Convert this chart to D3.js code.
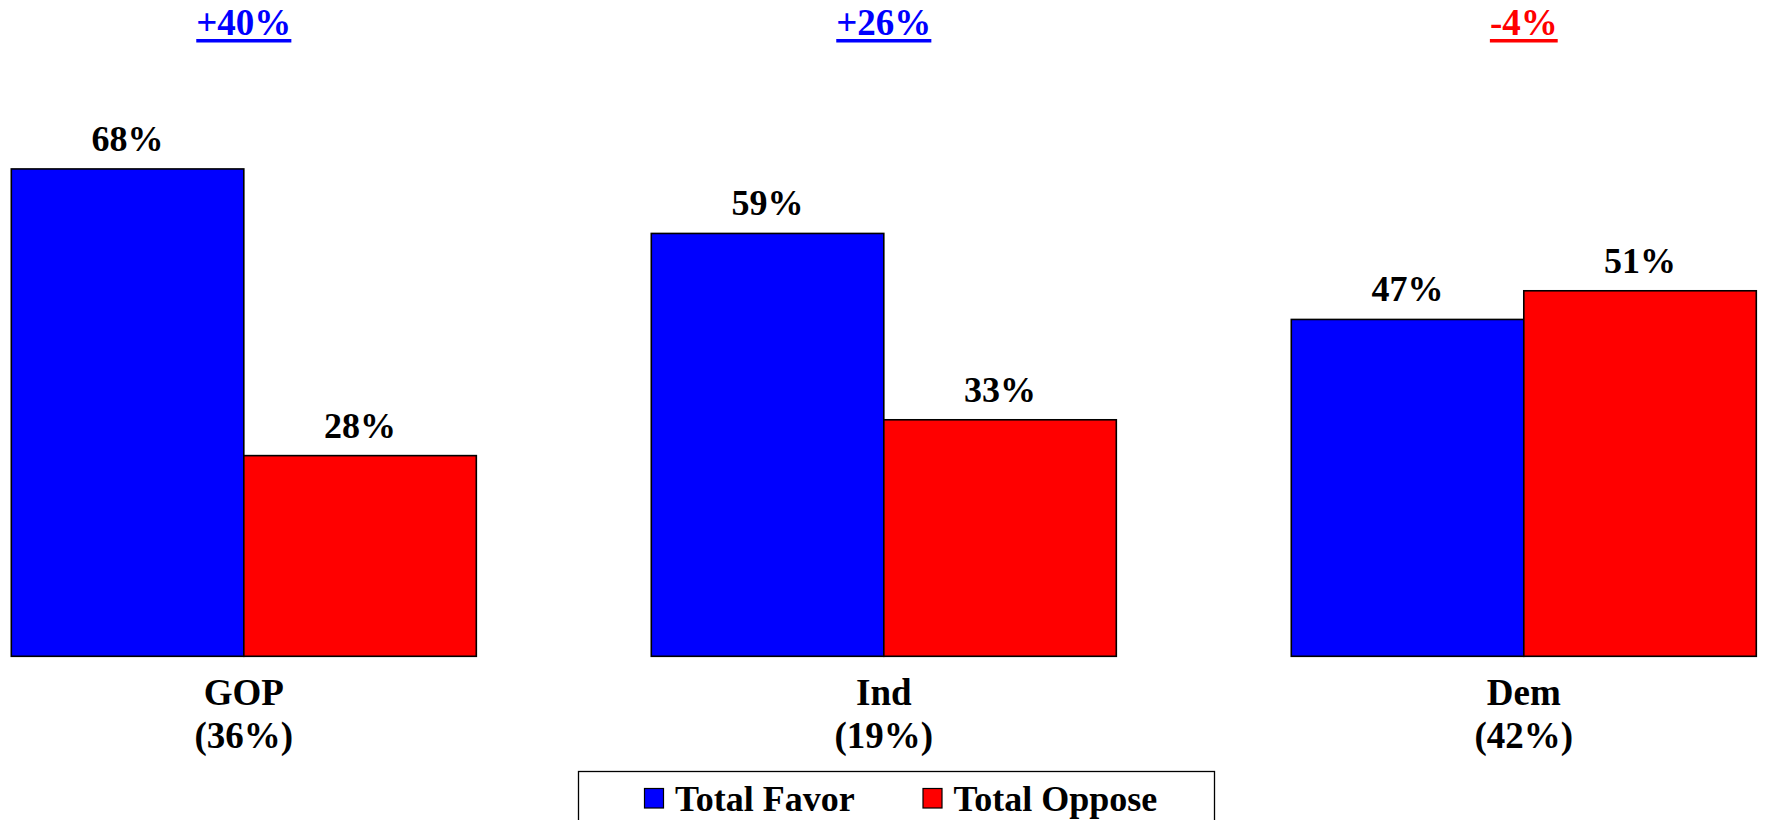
<!DOCTYPE html>
<html>
<head>
<meta charset="utf-8">
<script src="https://cdn.jsdelivr.net/npm/d3@7"></script>
<style>
  html, body { margin: 0; padding: 0; background: #fff; }
  svg { display: block; }
  text { font-family: "Liberation Serif", "Times New Roman", serif; font-weight: bold; }
</style>
</head>
<body>
<svg id="chart" width="1765" height="820"></svg>
<script>
// ---- data ----
const categories = ["GOP", "Ind", "Dem"];
const categoryShares = ["(36%)", "(19%)", "(42%)"];
const seriesNames = ["Total Favor", "Total Oppose"];
const favorValues = [68, 59, 47];
const opposeValues = [28, 33, 51];
const netLabels = ["+40%", "+26%", "-4%"];
const netColors = ["#0000FF", "#0000FF", "#FF0000"];
const seriesColors = ["#0000FF", "#FF0000"];

// ---- layout ----
const W = 1765, H = 820;
const svg = d3.select("#chart");

const x0 = d3.scaleBand().domain(categories).range([11.3, 1756.3]).paddingInner(0.2734).paddingOuter(0);
const x1 = d3.scaleBand().domain(seriesNames).range([0, x0.bandwidth()]).padding(0);
const y = d3.scaleLinear().domain([0, 100]).range([656.3, 656.3 - 716.7]);

const rows = categories.map((c, i) => ({
  cat: c, share: categoryShares[i], net: netLabels[i], netColor: netColors[i],
  vals: [favorValues[i], opposeValues[i]]
}));

const g = svg.append("g");

const groups = g.selectAll("g.grp").data(rows).join("g")
  .attr("class", "grp")
  .attr("transform", d => `translate(${x0(d.cat)},0)`);

groups.selectAll("rect").data(d => d.vals.map((v, j) => ({ name: seriesNames[j], v, j })))
  .join("rect")
  .attr("x", d => x1(d.name))
  .attr("y", d => y(d.v))
  .attr("width", x1.bandwidth())
  .attr("height", d => y(0) - y(d.v))
  .attr("fill", d => seriesColors[d.j])
  .attr("stroke", "#000")
  .attr("stroke-width", 1.6);

groups.selectAll("text.val").data(d => d.vals.map((v, j) => ({ name: seriesNames[j], v })))
  .join("text")
  .attr("class", "val")
  .attr("x", d => x1(d.name) + x1.bandwidth() / 2)
  .attr("y", d => y(d.v) - 18)
  .attr("text-anchor", "middle")
  .attr("font-size", 36)
  .attr("fill", "#000")
  .text(d => d.v + "%");

// category labels
groups.append("text")
  .attr("x", x0.bandwidth() / 2).attr("y", 705)
  .attr("text-anchor", "middle").attr("font-size", 37).attr("fill", "#000")
  .text(d => d.cat);
groups.append("text")
  .attr("x", x0.bandwidth() / 2).attr("y", 748)
  .attr("text-anchor", "middle").attr("font-size", 37).attr("fill", "#000")
  .text(d => d.share);

// net labels with underline
groups.each(function(d) {
  const gg = d3.select(this);
  const t = gg.append("text")
    .attr("x", x0.bandwidth() / 2).attr("y", 35)
    .attr("text-anchor", "middle").attr("font-size", 37)
    .attr("fill", d.netColor).text(d.net);
  const w = t.node().getComputedTextLength();
  gg.append("rect")
    .attr("x", x0.bandwidth() / 2 - w / 2).attr("y", 39)
    .attr("width", w).attr("height", 3.5)
    .attr("fill", d.netColor);
});

// legend
const leg = svg.append("g");
leg.append("rect")
  .attr("x", 578.5).attr("y", 771.5).attr("width", 636).attr("height", 70)
  .attr("fill", "#fff").attr("stroke", "#000").attr("stroke-width", 1.3);
const legX = [644.5, 923];
seriesNames.forEach((n, i) => {
  leg.append("rect")
    .attr("x", legX[i]).attr("y", 788.5).attr("width", 19).attr("height", 19.5)
    .attr("fill", seriesColors[i]).attr("stroke", "#000").attr("stroke-width", 1.2);
  leg.append("text")
    .attr("x", legX[i] + 30.5).attr("y", 810.5)
    .attr("font-size", 36).attr("fill", "#000").text(n);
});
</script>
</body>
</html>
